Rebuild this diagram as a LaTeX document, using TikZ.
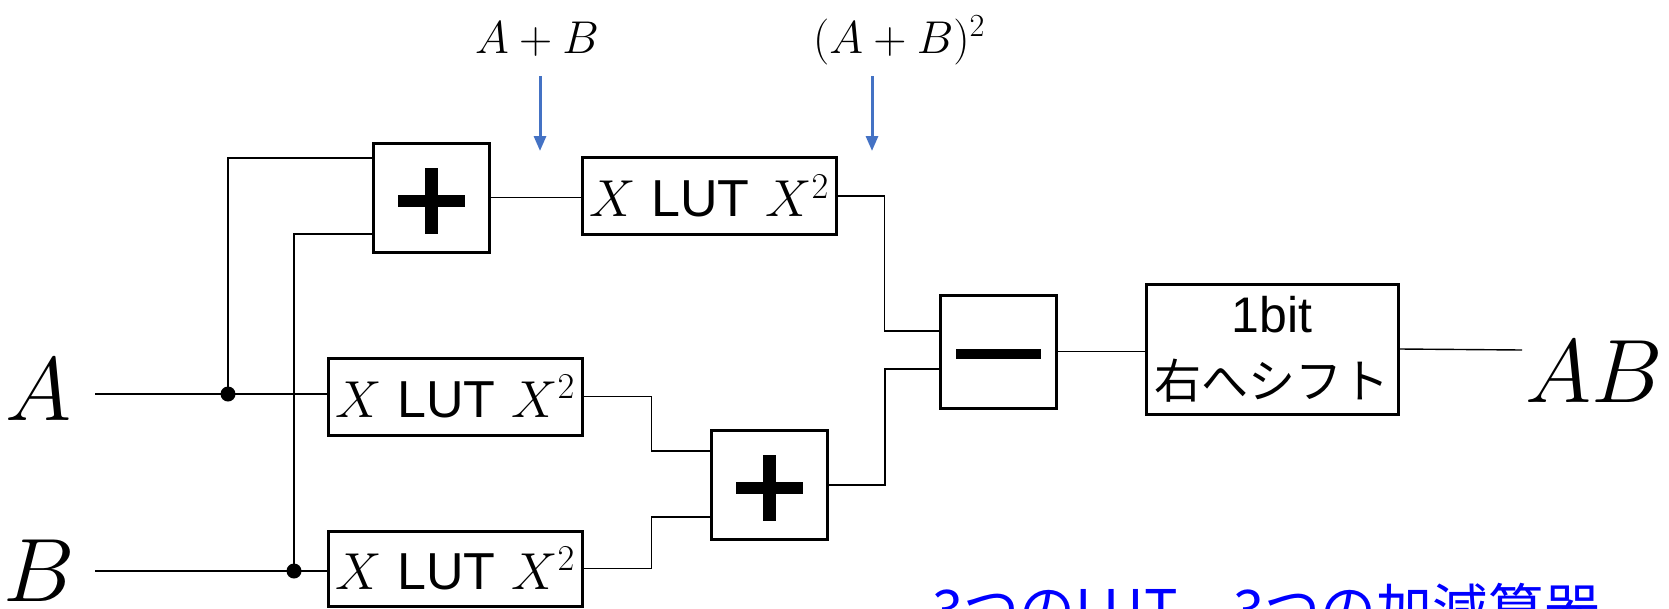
\RequirePackage{fix-cm}
\documentclass[tikz,border=0pt]{standalone}
\usepackage{fontspec}
\newfontfamily\arial{Liberation Sans}
\newfontfamily\cjk{Noto Sans CJK JP}
\usetikzlibrary{arrows.meta}
\definecolor{arrowblue}{HTML}{4472C4}
\tikzset{
  wire/.style={line width=1.4pt},
  blk/.style={draw, line width=3pt, inner sep=0pt},
  lut/.style={blk, minimum width=254pt, minimum height=77pt, font=\fontsize{52}{60}\selectfont},
  plusbox/.style={blk, minimum width=116pt, minimum height=109pt,
    path picture={
      \fill ([xshift=-33.5pt,yshift=-9pt]path picture bounding box.center) rectangle ++(67pt,12pt);
      \fill ([xshift=-6.5pt,yshift=-36pt]path picture bounding box.center) rectangle ++(13pt,66pt);
    }},
  minusbox/.style={blk, minimum width=116pt, minimum height=113pt,
    path picture={
      \fill ([xshift=-42.5pt,yshift=-7.5pt]path picture bounding box.center) rectangle ++(85pt,10pt);
    }},
  dot/.style={circle, fill, inner sep=0pt, minimum size=15pt},
  biglabel/.style={anchor=base, inner sep=0pt, font=\fontsize{90}{100}\selectfont},
  toplabel/.style={anchor=base, font=\fontsize{46}{54}\selectfont},
  bluearrow/.style={draw=arrowblue, line width=3pt, -{Triangle[width=12pt,length=15pt]}},
}
\begin{document}
\begin{tikzpicture}[x=1pt,y=-1pt]
\useasboundingbox (0,0) rectangle (1669,608);

% blocks
\node[plusbox] (plusT) at (431,197.5) {};
\node[lut] (lutT) at (709,196) {$X$ {\arial LUT} $X^2$};
\node[lut] (lutA) at (455,396.5) {$X$ {\arial LUT} $X^2$};
\node[lut, minimum height=75pt] (lutB) at (455,568.5) {$X$ {\arial LUT} $X^2$};
\node[plusbox] (plusB) at (769.5,485) {};
\node[minusbox] (minus) at (998,351.5) {};
\node[blk, minimum width=252pt, minimum height=130pt, align=center,
      font=\arial\fontsize{50}{66}\selectfont] (shift) at (1272,349) {1bit\\{\cjk\fontsize{47}{66}\selectfont 右へシフト}};

% labels
\node[biglabel] (A) at (39,420) {$A$};
\node[biglabel] (B) at (39,601) {$B$};
\node[biglabel] (AB) at (1594,402) {$AB$};
\node[toplabel] (lsum) at (537,53) {$A+B$};
\node[toplabel] (lsq) at (899,53) {$(A+B)^2$};
\node[anchor=base west, text=blue, inner sep=0pt,
      font=\cjk\fontsize{56}{60}\selectfont] (note) at (932,630) {3つのLUT、3つの加減算器};

% junctions and free ends
\coordinate (ain) at (95,394);
\coordinate (bin) at (95,571);
\node[dot] (ja) at (228,394) {};
\node[dot] (jb) at (294,571) {};
\coordinate (out) at (1522,350);
\path (plusT.west) ++(0,-39.5) coordinate (pTa);
\path (plusT.west) ++(0,36.5) coordinate (pTb);
\path (plusB.west) ++(0,-34) coordinate (pBa);
\path (plusB.west) ++(0,32) coordinate (pBb);
\path (minus.west) ++(0,-20.5) coordinate (mA);
\path (minus.west) ++(0,17.5) coordinate (mB);

% wires
\draw[wire] (ain) -- (ain -| lutA.west);
\draw[wire] (bin) -- (bin -| lutB.west);
\draw[wire] (ja.center) |- (pTa);
\draw[wire] (jb.center) |- (pTb);
\draw[wire] (plusT.east) -- (plusT.east -| lutT.west);
\draw[wire] (lutT.east) -- ++(47,0) |- (mA);
\draw[wire] (lutA.east) -- ++(68,0) |- (pBa);
\draw[wire] (lutB.east) -- ++(68,0) |- (pBb);
\draw[wire] (plusB.east) -- ++(56,0) |- (mB);
\draw[wire] (minus.east) -- (minus.east -| shift.west);
\draw[wire] (shift.east) -- (out);

% blue arrows
\coordinate (s1) at (540,76);
\coordinate (e1) at (540,151);
\coordinate (s2) at (872,76);
\coordinate (e2) at (872,151);
\draw[bluearrow] (s1) -- (e1);
\draw[bluearrow] (s2) -- (e2);
\end{tikzpicture}
\end{document}
